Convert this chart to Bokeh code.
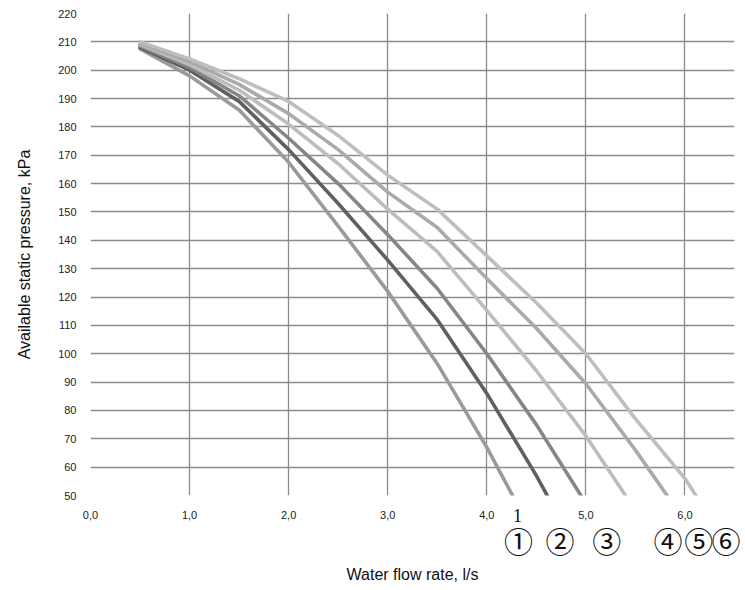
from bokeh.plotting import figure
from bokeh.models import FixedTicker, Range1d, LinearAxis
from bokeh.embed import file_html
from bokeh.resources import INLINE

# Flow rate (l/s) and available static pressure (kPa) for the six curves
flow_1 = [0.5, 1.0, 1.5, 2.0, 2.5, 3.0, 3.5, 4.0, 4.26]
press_1 = [207.5, 198, 186, 167.5, 145, 122, 96.5, 67, 50]

flow_2 = [0.5, 1.0, 1.5, 2.0, 2.5, 3.0, 3.5, 4.0, 4.5, 4.61]
press_2 = [208, 200, 189, 172, 153, 133, 112, 86, 57, 50]

flow_3 = [0.5, 1.0, 1.5, 2.0, 2.5, 3.0, 3.5, 4.0, 4.5, 4.95]
press_3 = [208.5, 201, 191, 176, 160, 142, 123, 100, 75, 50]

flow_4 = [0.5, 1.0, 1.5, 2.0, 2.5, 3.0, 3.5, 4.0, 4.5, 5.0, 5.4]
press_4 = [209, 202, 193, 181, 167, 151, 136, 115.3, 94, 71, 50]

flow_5 = [0.5, 1.0, 1.5, 2.0, 2.5, 3.0, 3.5, 4.0, 4.5, 5.0, 5.5, 5.82]
press_5 = [209.5, 203, 195, 184.7, 172, 157, 144.5, 126.5, 109, 89.4, 66, 50]

flow_6 = [0.5, 1.0, 1.5, 2.0, 2.5, 3.0, 3.5, 4.0, 4.5, 5.0, 5.5, 6.0, 6.11]
press_6 = [210, 204, 197, 189, 177, 163, 151, 134.5, 118, 100, 77, 56, 50]

curve_colors = ["#9a9a9a", "#606060", "#868686", "#bdbdbd", "#aaaaaa", "#bebebe"]

x_ticks = [0, 1, 2, 3, 4, 5, 6]
x_tick_labels = ["0,0", "1,0", "2,0", "3,0", "4,0", "5,0", "6,0"]
y_ticks = list(range(50, 221, 10))

# curve number marks under the axis
one_pos = [4.31]
one_text = ["1"]
mark_pos = [4.32, 4.74, 5.21, 5.83, 6.14, 6.42]
mark_text = ["\u2460", "\u2461", "\u2462", "\u2463", "\u2464", "\u2465"]

p = figure(width=740, height=586, output_backend="svg", toolbar_location=None,
           x_range=Range1d(0, 6.5), y_range=Range1d(50, 220),
           min_border_left=90, min_border_right=6, min_border_top=13, min_border_bottom=91)
p.outline_line_color = None
p.background_fill_color = "white"
p.border_fill_color = "white"

p.xaxis.ticker = FixedTicker(ticks=x_ticks)
p.xaxis.major_label_overrides = {t: s for t, s in zip(x_ticks, x_tick_labels)}
p.yaxis.ticker = FixedTicker(ticks=y_ticks)


def style_axis(ax, font, size):
    ax.axis_line_color = None
    ax.major_tick_line_color = None
    ax.minor_tick_line_color = None
    ax.major_tick_in = 0
    ax.major_tick_out = 0
    ax.minor_tick_in = 0
    ax.minor_tick_out = 0
    ax.major_label_text_font = font
    ax.major_label_text_font_size = size
    ax.major_label_text_color = "#222222"
    ax.axis_label_text_font = "Liberation Sans"
    ax.axis_label_text_font_size = "16px"
    ax.axis_label_text_font_style = "normal"
    ax.axis_label_text_color = "#111111"


style_axis(p.xaxis[0], "Liberation Sans", "11px")
style_axis(p.yaxis[0], "Liberation Sans", "11px")

p.yaxis.axis_label = "Available static pressure, kPa"
p.xaxis.major_label_standoff = 15
p.yaxis.major_label_standoff = 14
p.yaxis.axis_label_standoff = 22

ax_one = LinearAxis(ticker=FixedTicker(ticks=one_pos),
                    major_label_overrides={t: s for t, s in zip(one_pos, one_text)})
style_axis(ax_one, "Liberation Serif", "18px")
ax_one.major_label_text_color = "#111111"
ax_one.major_label_standoff = -13
p.add_layout(ax_one, "below")

ax_marks = LinearAxis(ticker=FixedTicker(ticks=mark_pos),
                      major_label_overrides={t: s for t, s in zip(mark_pos, mark_text)})
style_axis(ax_marks, "Noto Sans CJK JP", "29px")
ax_marks.major_label_text_color = "#111111"
ax_marks.major_label_standoff = -6
ax_marks.axis_label = "Water flow rate, l/s"
ax_marks.axis_label_standoff = 2
p.add_layout(ax_marks, "below")

p.xgrid.ticker = FixedTicker(ticks=x_ticks)
p.ygrid.ticker = FixedTicker(ticks=y_ticks)
for g in (p.xgrid[0], p.ygrid[0]):
    g.grid_line_color = "#8c8c8c"
    g.grid_line_width = 1.3

series = [(flow_1, press_1), (flow_2, press_2), (flow_3, press_3),
          (flow_4, press_4), (flow_5, press_5), (flow_6, press_6)]
for (fx, fy), c in zip(series, curve_colors):
    p.line(fx, fy, line_color=c, line_width=3.6, line_join="round", line_cap="round")

open("out.html", "w").write(file_html(p, INLINE))
